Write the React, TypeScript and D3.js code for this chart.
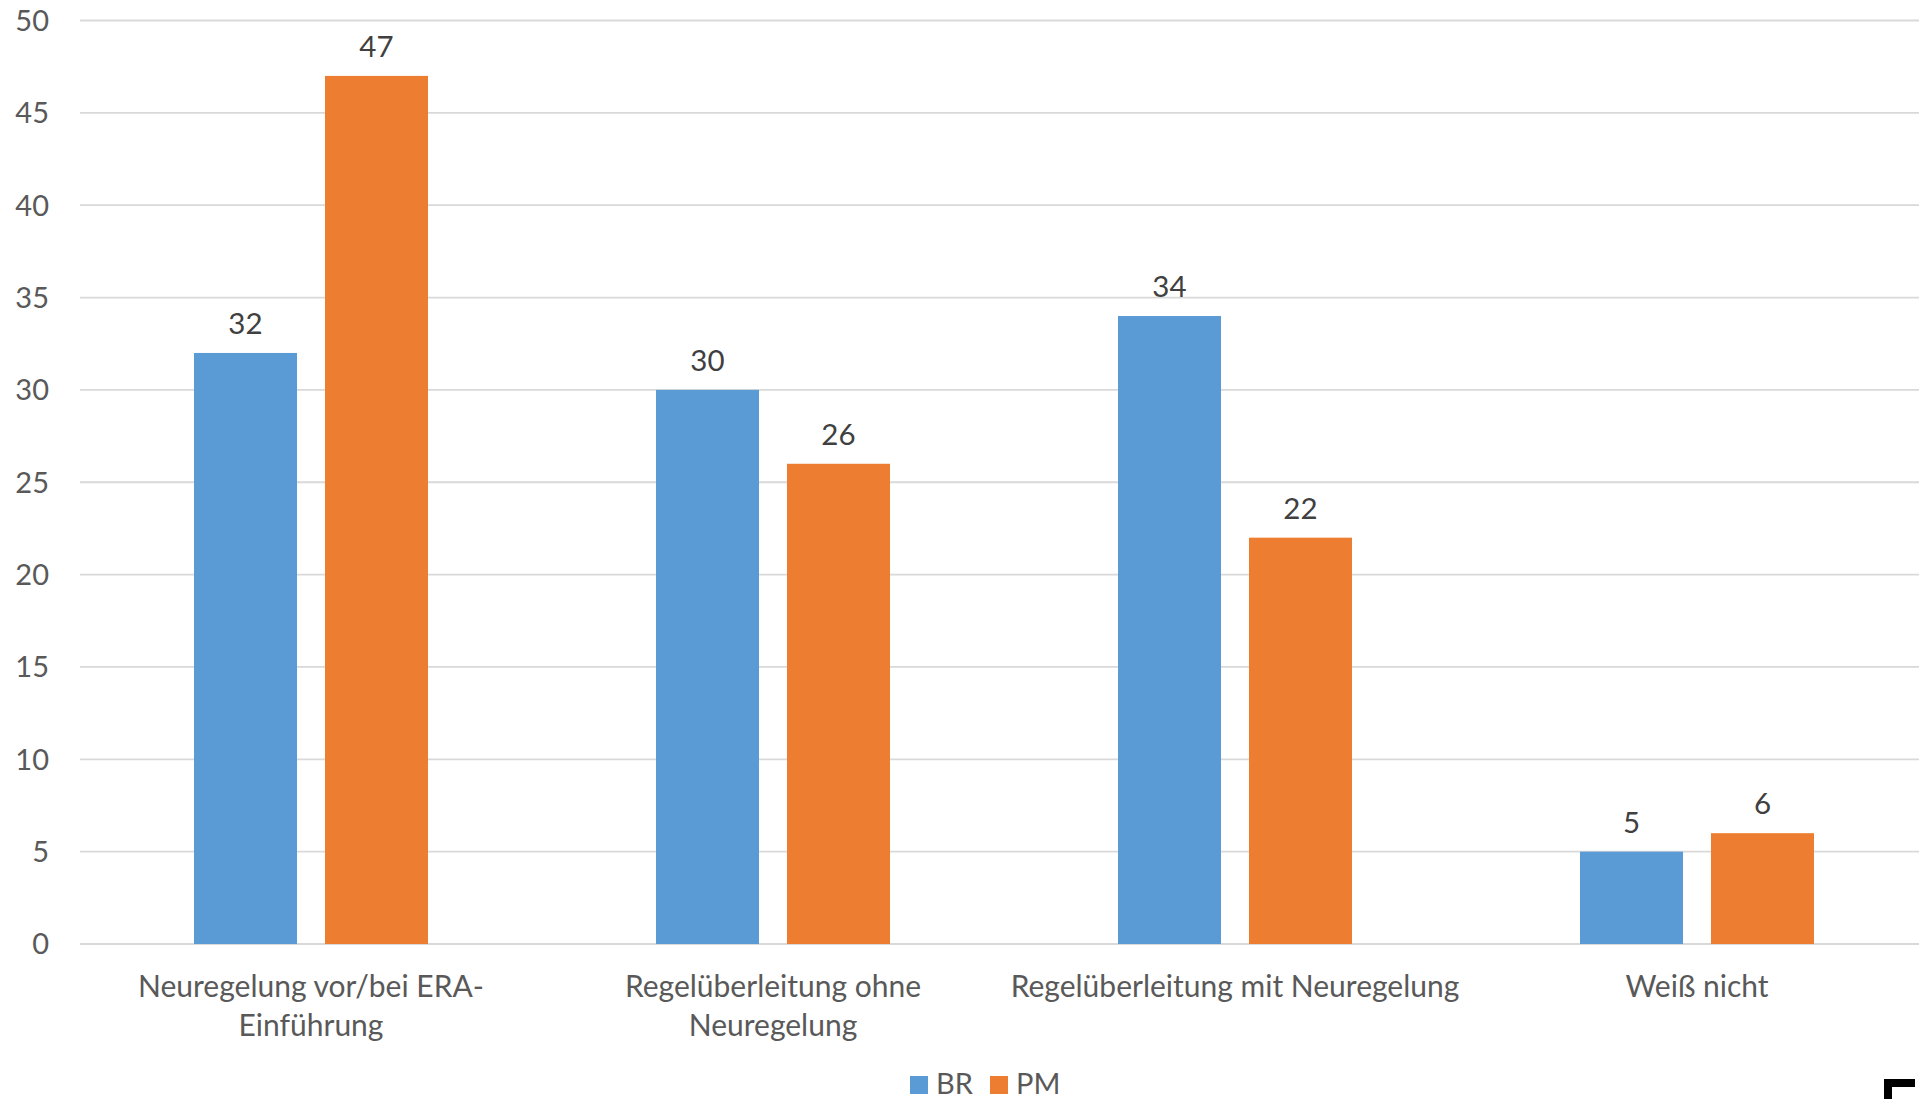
import React from "react";
import * as d3 from "d3";

// Survey answers: how were existing rules handled at ERA introduction
const categories = [
  "Neuregelung vor/bei ERA-Einführung",
  "Regelüberleitung ohne Neuregelung",
  "Regelüberleitung mit Neuregelung",
  "Weiß nicht",
];
const categoryLines = [
  ["Neuregelung vor/bei ERA-", "Einführung"],
  ["Regelüberleitung ohne", "Neuregelung"],
  ["Regelüberleitung mit Neuregelung"],
  ["Weiß nicht"],
];
const seriesNames = ["BR", "PM"];
const brValues = [32, 30, 34, 5];
const pmValues = [47, 26, 22, 6];
const yTicks = [0, 5, 10, 15, 20, 25, 30, 35, 40, 45, 50];

const colors: Record<string, string> = { BR: "#5B9BD5", PM: "#ED7D31" };
const FONT = "Lato, 'Open Sans', sans-serif";

export default function App() {
  const width = 1919;
  const height = 1099;
  const left = 80;
  const right = 1928;
  const y = d3.scaleLinear().domain([0, 50]).range([944, 20.5]);

  const x0 = d3
    .scaleBand<string>()
    .domain(categories)
    .range([left, right])
    .paddingInner(0.4935)
    .paddingOuter(0.4935 / 2);
  const x1 = d3
    .scaleBand<string>()
    .domain(seriesNames)
    .range([0, x0.bandwidth()])
    .paddingInner(0.2137);

  const valuesBySeries: Record<string, number[]> = { BR: brValues, PM: pmValues };

  return (
    <svg
      width={width}
      height={height}
      style={{ position: "absolute", left: 0, top: 0, display: "block", background: "#fff" }}
      fontFamily={FONT}
    >
      {/* gridlines */}
      {yTicks.map((t) => (
        <line
          key={`g${t}`}
          x1={left}
          x2={right}
          y1={y(t)}
          y2={y(t)}
          stroke="#d9d9d9"
          strokeWidth={1.8}
        />
      ))}
      {/* y tick labels */}
      {yTicks.map((t) => (
        <text
          key={`t${t}`}
          x={49}
          y={y(t)}
          dy="0.36em"
          textAnchor="end"
          fontSize={29}
          fill="#595959"
        >
          {t}
        </text>
      ))}
      {/* bars */}
      {categories.map((c, i) => (
        <g key={c} transform={`translate(${x0(c)},0)`}>
          {seriesNames.map((s) => {
            const v = valuesBySeries[s][i];
            const bx = x1(s)!;
            return (
              <g key={s}>
                <rect
                  x={bx}
                  y={y(v)}
                  width={x1.bandwidth()}
                  height={y(0) - y(v)}
                  fill={colors[s]}
                />
                <text
                  x={bx + x1.bandwidth() / 2}
                  y={y(v) - 19}
                  textAnchor="middle"
                  fontSize={29.5}
                  fill="#404040"
                >
                  {v}
                </text>
              </g>
            );
          })}
        </g>
      ))}
      {/* category labels */}
      {categories.map((c, i) => (
        <text
          key={`c${c}`}
          x={x0(c)! + x0.bandwidth() / 2}
          y={997}
          textAnchor="middle"
          fontSize={30}
          fill="#595959"
        >
          {categoryLines[i].map((ln, j) => (
            <tspan key={j} x={x0(c)! + x0.bandwidth() / 2} dy={j === 0 ? 0 : 38.5}>
              {ln}
            </tspan>
          ))}
        </text>
      ))}
      {/* legend */}
      <g>
        <rect x={910} y={1076} width={18} height={18} fill={colors.BR} />
        <text x={936} y={1093.5} fontSize={29} fill="#595959">
          BR
        </text>
        <rect x={990} y={1076} width={18} height={18} fill={colors.PM} />
        <text x={1016} y={1093.5} fontSize={29} fill="#595959">
          PM
        </text>
      </g>
      {/* corner mark */}
      <path d="M1884,1079 H1915 V1087 H1892 V1099 H1884 Z" fill="#000" />
    </svg>
  );
}
